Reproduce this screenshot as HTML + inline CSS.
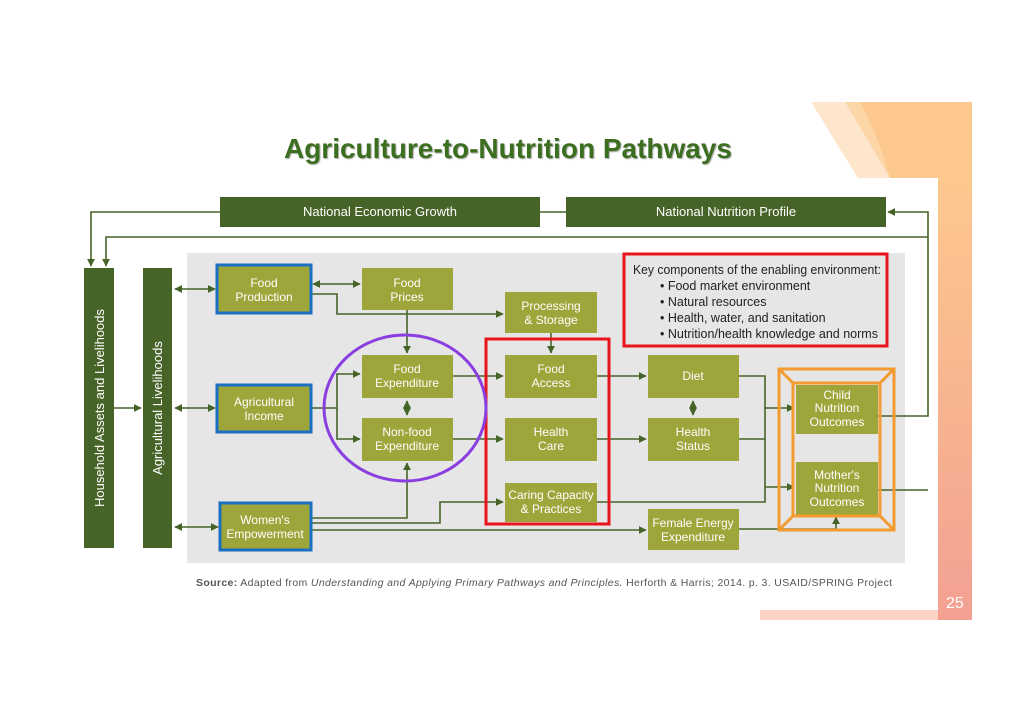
<!DOCTYPE html>
<html><head><meta charset="utf-8"><style>
html,body{margin:0;padding:0;background:#fff;}
svg{display:block;font-family:"Liberation Sans",sans-serif;}
</style></head><body>
<svg width="1024" height="724" viewBox="0 0 1024 724">
<defs>
<linearGradient id="og" x1="0" y1="0" x2="0" y2="1">
<stop offset="0" stop-color="#fdc88e"/><stop offset="1" stop-color="#f3a092"/></linearGradient>
<marker id="a" viewBox="0 0 10 10" refX="9" refY="5" markerWidth="5" markerHeight="5" orient="auto-start-reverse"><path d="M0,0L10,5L0,10z" fill="#466428"/></marker>
</defs>
<rect width="1024" height="724" fill="#fff"/>
<!-- decorative orange -->
<path d="M811,102 L972,102 L972,178 L858,178 Z" fill="#fde6cc"/>
<path d="M845,102 L972,102 L972,178 L890,178 Z" fill="#fdd6a8"/>
<path d="M860,102 L972,102 L972,178 L890,178 Q880,140 860,102 Z" fill="#fdc88e"/>
<rect x="938" y="178" width="34" height="442" fill="url(#og)"/>
<rect x="760" y="610" width="178" height="10" fill="#fbd2c4"/>
<text x="946" y="608" font-size="16" fill="#fff">25</text>
<!-- title -->
<text x="508" y="158" font-size="28" font-weight="bold" fill="#3b6e1e" text-anchor="middle" style="text-shadow:1px 1px 1px #aaa">Agriculture-to-Nutrition Pathways</text>
<!-- gray area -->
<rect x="187" y="253" width="718" height="310" fill="#e6e6e6"/>
<!-- top boxes -->
<g fill="#466428">
<rect x="220" y="197" width="320" height="30"/><rect x="566" y="197" width="320" height="30"/>
<rect x="84" y="268" width="30" height="280"/><rect x="143" y="268" width="29" height="280"/>
</g>
<g fill="#fff" font-size="13" text-anchor="middle">
<text x="380" y="216">National Economic Growth</text>
<text x="726" y="216">National Nutrition Profile</text>
<text transform="translate(104,408) rotate(-90)">Household Assets and Livelihoods</text>
<text transform="translate(162,408) rotate(-90)">Agricultural Livelihoods</text>
</g>
<!-- connectors -->
<g stroke="#466428" stroke-width="1.6" fill="none">
<path d="M220,212 H91 V266" marker-end="url(#a)"/>
<path d="M928,237 H106 V266" marker-end="url(#a)"/>
<path d="M540,212 H566"/>
<path d="M928,237 V212 H888" marker-end="url(#a)"/>
<path d="M878,416 H928 V237"/><path d="M878,490 H928"/>
<path d="M114,408 H141" marker-end="url(#a)"/>
<path d="M175,289 H215" marker-start="url(#a)" marker-end="url(#a)"/>
<path d="M175,408 H215" marker-start="url(#a)" marker-end="url(#a)"/>
<path d="M175,527 H218" marker-start="url(#a)" marker-end="url(#a)"/>
<path d="M313,284 H360" marker-start="url(#a)" marker-end="url(#a)"/>
<path d="M311,294 H337 V314 H503" marker-end="url(#a)"/>
<path d="M407,310 V353" marker-end="url(#a)"/>
<path d="M551,333 V353" marker-end="url(#a)"/>
<path d="M311,408 H337 V374 H360" marker-end="url(#a)"/>
<path d="M337,408 V439 H360" marker-end="url(#a)"/>
<path d="M407,401 V415" marker-start="url(#a)" marker-end="url(#a)"/>
<path d="M311,518 H407 V463" marker-end="url(#a)"/>
<path d="M311,523 H440 V502 H503" marker-end="url(#a)"/>
<path d="M311,530 H646" marker-end="url(#a)"/>
<path d="M453,376 H503" marker-end="url(#a)"/>
<path d="M453,439 H503" marker-end="url(#a)"/>
<path d="M597,376 H646" marker-end="url(#a)"/>
<path d="M597,439 H646" marker-end="url(#a)"/>
<path d="M693,401 V415" marker-start="url(#a)" marker-end="url(#a)"/>
<path d="M739,376 H765 V502 H597"/>
<path d="M739,439 H765"/>
<path d="M765,408 H794" marker-end="url(#a)"/>
<path d="M765,487 H794" marker-end="url(#a)"/>
<path d="M739,529 H836 V517" marker-end="url(#a)"/>
</g>
<!-- olive boxes -->
<g fill="#9ea53a">
<rect x="217" y="265" width="94" height="48" stroke="#1a6fc0" stroke-width="3"/>
<rect x="217" y="385" width="94" height="47" stroke="#1a6fc0" stroke-width="3"/>
<rect x="220" y="503" width="91" height="47" stroke="#1a6fc0" stroke-width="3"/>
<rect x="362" y="268" width="91" height="42"/>
<rect x="505" y="292" width="92" height="41"/>
<rect x="362" y="355" width="91" height="43"/>
<rect x="362" y="418" width="91" height="43"/>
<rect x="505" y="355" width="92" height="43"/>
<rect x="505" y="418" width="92" height="43"/>
<rect x="505" y="483" width="92" height="39"/>
<rect x="648" y="355" width="91" height="43"/>
<rect x="648" y="418" width="91" height="43"/>
<rect x="648" y="509" width="91" height="41"/>
<rect x="796" y="385" width="82" height="49"/>
<rect x="796" y="462" width="82" height="53"/>
</g>
<g fill="#fff" font-size="12" text-anchor="middle">
<text x="264" y="287">Food</text><text x="264" y="301">Production</text>
<text x="264" y="406">Agricultural</text><text x="264" y="420">Income</text>
<text x="265" y="524">Women's</text><text x="265" y="538">Empowerment</text>
<text x="407" y="287">Food</text><text x="407" y="301">Prices</text>
<text x="551" y="310">Processing</text><text x="551" y="324">&amp; Storage</text>
<text x="407" y="373">Food</text><text x="407" y="387">Expenditure</text>
<text x="407" y="436">Non-food</text><text x="407" y="450">Expenditure</text>
<text x="551" y="373">Food</text><text x="551" y="387">Access</text>
<text x="551" y="436">Health</text><text x="551" y="450">Care</text>
<text x="551" y="499">Caring Capacity</text><text x="551" y="513">&amp; Practices</text>
<text x="693" y="380">Diet</text>
<text x="693" y="436">Health</text><text x="693" y="450">Status</text>
<text x="693" y="527">Female Energy</text><text x="693" y="541">Expenditure</text>
<text x="837" y="399">Child</text><text x="837" y="412">Nutrition</text><text x="837" y="426">Outcomes</text>
<text x="837" y="479">Mother's</text><text x="837" y="492">Nutrition</text><text x="837" y="506">Outcomes</text>
</g>
<!-- highlights -->
<rect x="624" y="254" width="263" height="92" fill="none" stroke="#e8141c" stroke-width="3"/>
<g font-size="12.5" fill="#222">
<text x="633" y="274" textLength="248" lengthAdjust="spacingAndGlyphs">Key components of the enabling environment:</text>
<text x="660" y="290">• Food market environment</text>
<text x="660" y="306">• Natural resources</text>
<text x="660" y="322">• Health, water, and sanitation</text>
<text x="660" y="338" textLength="218" lengthAdjust="spacingAndGlyphs">• Nutrition/health knowledge and norms</text>
</g>
<rect x="486" y="339" width="123" height="185" fill="none" stroke="#e8141c" stroke-width="3"/>
<ellipse cx="405" cy="408" rx="81" ry="73" fill="none" stroke="#8a3ee0" stroke-width="3"/>
<g fill="none" stroke="#f39a30" stroke-width="3">
<rect x="779" y="369" width="115" height="161"/>
<rect x="793" y="383" width="87" height="133"/>
<path d="M779,369 L793,383 M894,369 L880,383 M779,530 L793,516 M894,530 L880,516"/>
</g>
<text x="196" y="586" font-size="10.5" fill="#555" textLength="696" lengthAdjust="spacing"><tspan font-weight="bold">Source:</tspan> Adapted from <tspan font-style="italic">Understanding and Applying Primary Pathways and Principles.</tspan> Herforth &amp; Harris; 2014. p. 3. USAID/SPRING Project</text>
</svg>
</body></html>
